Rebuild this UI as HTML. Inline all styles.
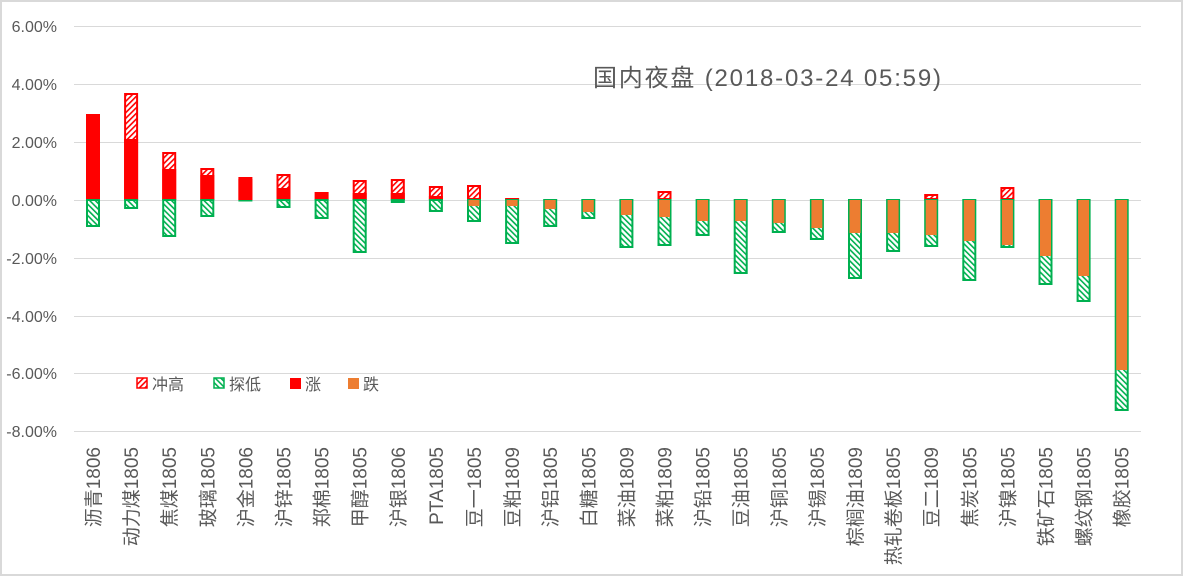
<!DOCTYPE html>
<html><head><meta charset="utf-8"><style>
html,body{margin:0;padding:0;background:#fff;}
svg{display:block;font-family:"Liberation Sans","Noto Sans CJK SC",sans-serif;}
.h{fill:url(#ph);stroke:#f00;stroke-width:2}
.s{fill:#f00}
.g{fill:url(#pl);stroke:#00b050;stroke-width:2}
.o{fill:#ed7d31}
</style></head><body>
<svg width="1183" height="576" viewBox="0 0 1183 576" xmlns="http://www.w3.org/2000/svg">
<defs>
<pattern id="ph" width="4" height="4" patternUnits="userSpaceOnUse" patternTransform="rotate(45)">
<rect width="4" height="4" fill="#fff"/><rect width="1.6" height="4" fill="#ff0000"/></pattern>
<pattern id="pl" width="4" height="4" patternUnits="userSpaceOnUse" patternTransform="rotate(-45)">
<rect width="4" height="4" fill="#fff"/><rect width="1.6" height="4" fill="#00b050"/></pattern>
</defs>
<rect x="1" y="1" width="1181" height="574" fill="#fff" stroke="#d9d9d9" stroke-width="2"/>
<g stroke="#d9d9d9" stroke-width="1">
<line x1="74" x2="1141" y1="26.5" y2="26.5"/><line x1="74" x2="1141" y1="84.5" y2="84.5"/>
<line x1="74" x2="1141" y1="142.5" y2="142.5"/><line x1="74" x2="1141" y1="200.5" y2="200.5"/>
<line x1="74" x2="1141" y1="258.5" y2="258.5"/><line x1="74" x2="1141" y1="316.5" y2="316.5"/>
<line x1="74" x2="1141" y1="373.5" y2="373.5"/><line x1="74" x2="1141" y1="431.5" y2="431.5"/>
</g>
<g fill="#595959" font-size="16" text-anchor="end">
<text x="57" y="32">6.00%</text><text x="57" y="90">4.00%</text><text x="57" y="148">2.00%</text>
<text x="57" y="206">0.00%</text><text x="57" y="264">-2.00%</text><text x="57" y="322">-4.00%</text>
<text x="57" y="379">-6.00%</text><text x="57" y="437">-8.00%</text>
</g>
<text x="593" y="86" font-size="24" fill="#595959" textLength="348">国内夜盘 (2018-03-24 05:59)</text>

<g transform="translate(86,0)"><rect class="h" x="1" y="115" width="12" height="84"/><rect class="s" x="0" y="116" width="14" height="84"/><rect class="g" x="1" y="200" width="12" height="26"/></g>
<g transform="translate(124.1,0)"><rect class="h" x="1" y="94" width="12" height="105"/><rect class="s" x="0" y="139" width="14" height="61"/><rect class="g" x="1" y="200" width="12" height="8"/></g>
<g transform="translate(162.2,0)"><rect class="h" x="1" y="153" width="12" height="46"/><rect class="s" x="0" y="169" width="14" height="31"/><rect class="g" x="1" y="200" width="12" height="36"/></g>
<g transform="translate(200.3,0)"><rect class="h" x="1" y="169" width="12" height="30"/><rect class="s" x="0" y="175" width="14" height="25"/><rect class="g" x="1" y="200" width="12" height="16"/></g>
<g transform="translate(238.4,0)"><rect class="h" x="1" y="178" width="12" height="21"/><rect class="s" x="0" y="179" width="14" height="21"/><rect x="0" y="200" width="14" height="1.5" fill="#00b050"/></g>
<g transform="translate(276.5,0)"><rect class="h" x="1" y="175" width="12" height="24"/><rect class="s" x="0" y="188" width="14" height="12"/><rect class="g" x="1" y="200" width="12" height="7"/></g>
<g transform="translate(314.6,0)"><rect class="s" x="0" y="192" width="14" height="8"/><rect class="g" x="1" y="200" width="12" height="18"/></g>
<g transform="translate(352.7,0)"><rect class="h" x="1" y="181" width="12" height="18"/><rect class="s" x="0" y="193" width="14" height="7"/><rect class="g" x="1" y="200" width="12" height="52"/></g>
<g transform="translate(390.8,0)"><rect class="h" x="1" y="180" width="12" height="19"/><rect class="s" x="0" y="193" width="14" height="7"/><rect class="g" x="1" y="200" width="12" height="2"/></g>
<g transform="translate(428.9,0)"><rect class="h" x="1" y="187" width="12" height="12"/><rect class="s" x="0" y="196" width="14" height="4"/><rect class="g" x="1" y="200" width="12" height="11"/></g>
<g transform="translate(467,0)"><rect class="h" x="1" y="186" width="12" height="13"/><rect class="g" x="1" y="200" width="12" height="21"/><rect class="o" x="1.5" y="200" width="11" height="6"/></g>
<g transform="translate(505.1,0)"><rect class="s" x="0" y="198" width="14" height="2"/><rect class="g" x="1" y="200" width="12" height="43"/><rect class="o" x="1.5" y="200" width="11" height="6"/></g>
<g transform="translate(543.2,0)"><rect class="g" x="1" y="200" width="12" height="26"/><rect class="o" x="1.5" y="200" width="11" height="9"/></g>
<g transform="translate(581.3,0)"><rect class="g" x="1" y="200" width="12" height="18"/><rect class="o" x="1.5" y="200" width="11" height="12"/></g>
<g transform="translate(619.4,0)"><rect class="g" x="1" y="200" width="12" height="47"/><rect class="o" x="1.5" y="200" width="11" height="15"/></g>
<g transform="translate(657.5,0)"><rect class="h" x="1" y="192" width="12" height="7"/><rect class="g" x="1" y="200" width="12" height="45"/><rect class="o" x="1.5" y="200" width="11" height="17"/></g>
<g transform="translate(695.6,0)"><rect class="g" x="1" y="200" width="12" height="35"/><rect class="o" x="1.5" y="200" width="11" height="21"/></g>
<g transform="translate(733.7,0)"><rect class="g" x="1" y="200" width="12" height="73"/><rect class="o" x="1.5" y="200" width="11" height="21"/></g>
<g transform="translate(771.8,0)"><rect class="g" x="1" y="200" width="12" height="32"/><rect class="o" x="1.5" y="200" width="11" height="23"/></g>
<g transform="translate(809.9,0)"><rect class="g" x="1" y="200" width="12" height="39"/><rect class="o" x="1.5" y="200" width="11" height="28"/></g>
<g transform="translate(848,0)"><rect class="g" x="1" y="200" width="12" height="78"/><rect class="o" x="1.5" y="200" width="11" height="33"/></g>
<g transform="translate(886.1,0)"><rect class="g" x="1" y="200" width="12" height="51"/><rect class="o" x="1.5" y="200" width="11" height="33"/></g>
<g transform="translate(924.2,0)"><rect class="h" x="1" y="195" width="12" height="4"/><rect class="g" x="1" y="200" width="12" height="46"/><rect class="o" x="1.5" y="200" width="11" height="35"/></g>
<g transform="translate(962.3,0)"><rect class="g" x="1" y="200" width="12" height="80"/><rect class="o" x="1.5" y="200" width="11" height="41"/></g>
<g transform="translate(1000.4,0)"><rect class="h" x="1" y="188" width="12" height="11"/><rect class="g" x="1" y="200" width="12" height="47"/><rect class="o" x="1.5" y="200" width="11" height="45"/></g>
<g transform="translate(1038.5,0)"><rect class="g" x="1" y="200" width="12" height="84"/><rect class="o" x="1.5" y="200" width="11" height="56"/></g>
<g transform="translate(1076.6,0)"><rect class="g" x="1" y="200" width="12" height="101"/><rect class="o" x="1.5" y="200" width="11" height="76"/></g>
<g transform="translate(1114.7,0)"><rect class="g" x="1" y="200" width="12" height="210"/><rect class="o" x="1.5" y="200" width="11" height="170"/></g>

<g font-size="16" fill="#595959">
<rect x="137" y="378" width="10" height="10" fill="url(#ph)" stroke="#f00" stroke-width="1.5"/><text x="152" y="390">冲高</text>
<rect x="214" y="378" width="10" height="10" fill="url(#pl)" stroke="#00b050" stroke-width="1.5"/><text x="229" y="390">探低</text>
<rect x="290" y="378" width="11" height="11" fill="#f00"/><text x="305" y="390">涨</text>
<rect x="348" y="378" width="11" height="11" fill="#ed7d31"/><text x="363" y="390">跌</text>
</g>
<g font-size="19" fill="#595959" text-anchor="end">
<text transform="translate(100,447) rotate(-90)">沥青1806</text>
<text transform="translate(138.1,447) rotate(-90)">动力煤1805</text>
<text transform="translate(176.2,447) rotate(-90)">焦煤1805</text>
<text transform="translate(214.3,447) rotate(-90)">玻璃1805</text>
<text transform="translate(252.4,447) rotate(-90)">沪金1806</text>
<text transform="translate(290.5,447) rotate(-90)">沪锌1805</text>
<text transform="translate(328.6,447) rotate(-90)">郑棉1805</text>
<text transform="translate(366.7,447) rotate(-90)">甲醇1805</text>
<text transform="translate(404.8,447) rotate(-90)">沪银1806</text>
<text transform="translate(442.9,447) rotate(-90)">PTA1805</text>
<text transform="translate(481,447) rotate(-90)">豆一1805</text>
<text transform="translate(519.1,447) rotate(-90)">豆粕1809</text>
<text transform="translate(557.2,447) rotate(-90)">沪铝1805</text>
<text transform="translate(595.3,447) rotate(-90)">白糖1805</text>
<text transform="translate(633.4,447) rotate(-90)">菜油1809</text>
<text transform="translate(671.5,447) rotate(-90)">菜粕1809</text>
<text transform="translate(709.6,447) rotate(-90)">沪铅1805</text>
<text transform="translate(747.7,447) rotate(-90)">豆油1805</text>
<text transform="translate(785.8,447) rotate(-90)">沪铜1805</text>
<text transform="translate(823.9,447) rotate(-90)">沪锡1805</text>
<text transform="translate(862,447) rotate(-90)">棕榈油1809</text>
<text transform="translate(900.1,447) rotate(-90)">热轧卷板1805</text>
<text transform="translate(938.2,447) rotate(-90)">豆二1809</text>
<text transform="translate(976.3,447) rotate(-90)">焦炭1805</text>
<text transform="translate(1014.4,447) rotate(-90)">沪镍1805</text>
<text transform="translate(1052.5,447) rotate(-90)">铁矿石1805</text>
<text transform="translate(1090.6,447) rotate(-90)">螺纹钢1805</text>
<text transform="translate(1128.7,447) rotate(-90)">橡胶1805</text>
</g>
</svg>
</body></html>
